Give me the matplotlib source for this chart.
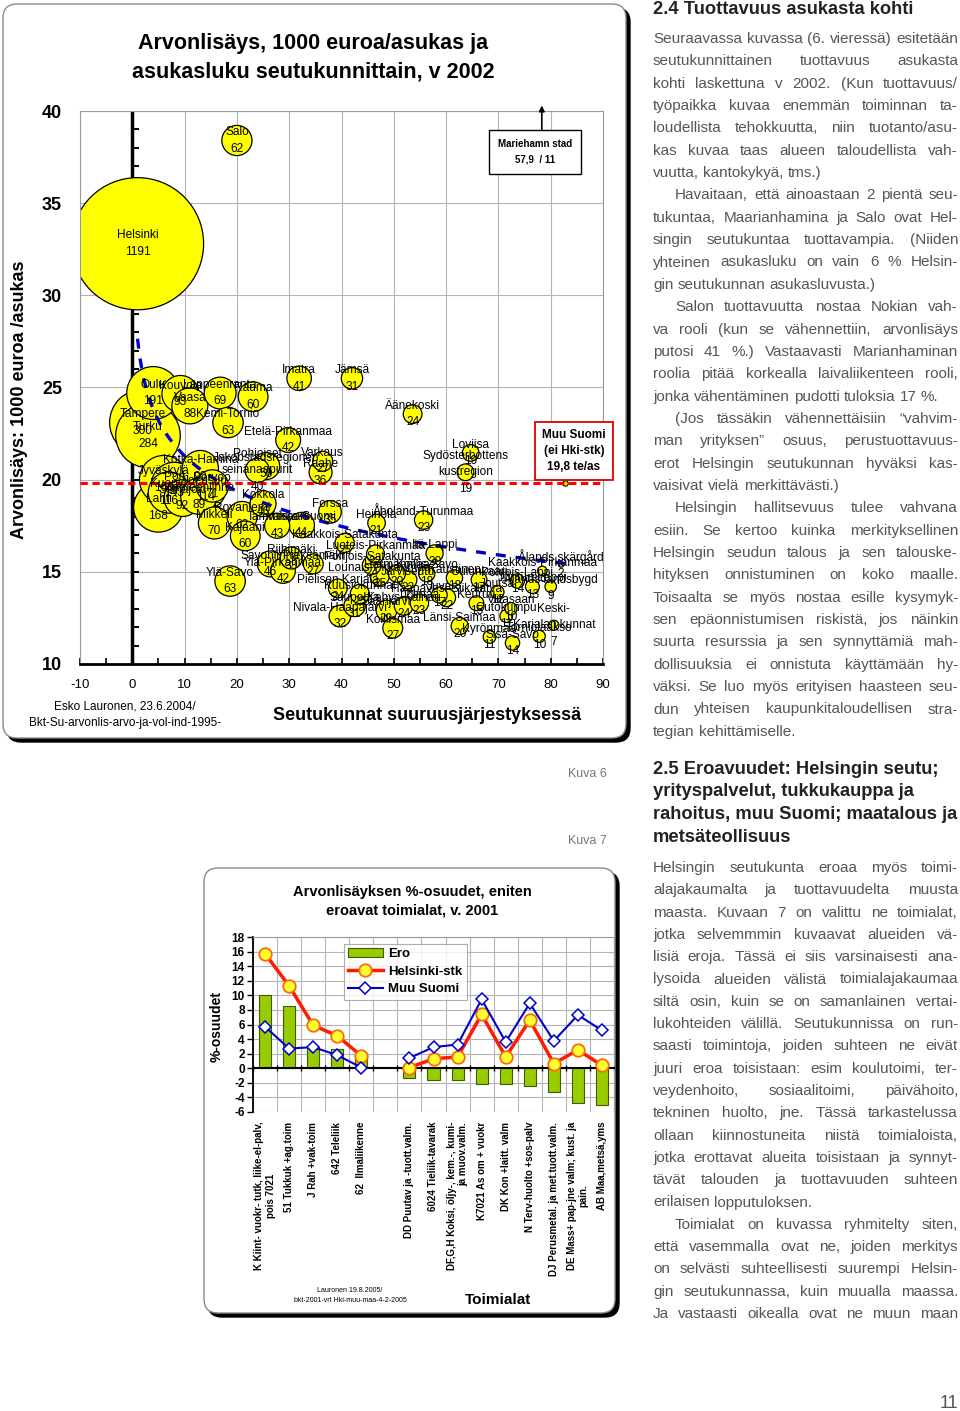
import matplotlib
matplotlib.use('Agg')
import matplotlib.pyplot as plt
import numpy as np
from matplotlib.patches import FancyBboxPatch
from matplotlib.transforms import IdentityTransform, blended_transform_factory

# =============================================================================
# PAGE SETUP
# =============================================================================

W, H = 960, 1411
plt.rcParams['font.family'] = ['Liberation Sans', 'DejaVu Sans']
plt.rcParams['axes.unicode_minus'] = False
BODY_COLOR = '#555555'

# =============================================================================
# DATA - Kuva 6 (bubble chart)
# =============================================================================

regions = ['Helsinki', 'Tampere', 'Turku', 'Oulu', 'Lahti', 'Jyväskylä', 'Kuopio', 'Pori',
           'Kouvola', 'Seinäjoki', 'Vaasa', 'Hämeenlinna', 'Kotka-Hamina', 'Joensuu', 'Porvoo',
           'Mikkeli', 'Lappeenranta', 'Kemi-Tornio', 'Ylä-Savo', 'Salo', 'Rovaniemi', 'Kajaani',
           'Rauma', 'Pohjoiset\nseinänaapurit', 'Kokkola', 'Jakobstadsregionen', 'Savonlinna',
           'Tammisaari', 'Ylä-Pirkanmaa', 'Etelä-Pirkanmaa', 'Riihimäki', 'Imatra', 'Vakka-Suomi',
           'Pieksämäki', 'Raahe', 'Varkaus', 'Forssa', 'Pielisen Karjala', 'Nivala-Haapajärvi',
           'Kaakkois-Satakunta', 'Jämsä', 'Suupohja', 'Kuusiokunnat', 'Lounais-Pirkanmaa',
           'Pohjois-Satakunta', 'Luoteis-Pirkanmaa', 'Heinola', 'Saarijärvi', 'Koillismaa',
           'Härmänmaa', 'Kehys-Kainuu', 'Järviseutu', 'Äänekoski', 'Loimaa', 'Åboland-Turunmaa',
           'Koillis-Savo', 'Itä-Lappi', 'Juva', 'Haapavesi-Siikalatva', 'Kaustinen', 'Länsi-Saimaa',
           'Sydösterbottens\nkustregion', 'Loviisa', 'Keuruu', 'Oulunkaari', 'Kyrönmaa', 'Joutsa',
           'Outokumpu', 'Sisä-Savo', 'Viitasaari', 'Pohjois-Lappi', 'Mariehamns stad',
           'Tunturi-Lappi', 'Torniolaakso', 'Kaakkois-Pirkanmaa', 'Ålands landsbygd',
           'Keski-\nKarjalan kunnat', 'Ålands skärgård']
size_rank = [1, 2, 3, 4, 5, 6, 7, 8, 9.2, 9.6, 11, 12.7, 13, 14, 15.3, 15.7, 16.8, 18.3, 18.7, 20,
             21, 21.6, 23.1, 23.9, 25, 25.6, 26.4, 27.7, 28.8, 29.8, 30.4, 31.9, 32.4, 34.6, 36,
             36.4, 37.8, 39.3, 39.7, 40.6, 42, 42.5, 43.5, 47.3, 45.8, 46.5, 46.7, 48.6, 49.8,
             50.6, 51.9, 52.7, 53.6, 54.9, 55.7, 56.3, 57.8, 58.7, 60.1, 61.6, 62.6, 63.7, 64.7,
             65.8, 66.3, 68.3, 69.8, 71.5, 72.7, 72.4, 73.6, 74.5, 76.5, 77.8, 78.4, 80, 80.6, 82]
value_per_cap = [32.8, 23.1, 22.4, 24.7, 18.5, 20.0, 19.3, 19.7, 24.65, 19.0, 24.0, 19.1, 20.6,
                 19.5, 19.66, 17.65, 24.7, 23.1, 14.5, 38.4, 18.0, 16.95, 24.5, 20.5, 18.7, 20.74,
                 15.43, 17.5, 15.05, 22.15, 15.75, 25.5, 17.54, 15.43, 20.4, 21.0, 18.25, 14.1,
                 12.6, 16.57, 25.5, 13.15, 13.8, 14.77, 15.37, 15.97, 17.65, 12.9, 11.95, 14.9,
                 13.15, 14.56, 23.56, 13.3, 17.81, 14.9, 16.0, 13.74, 13.6, 14.67, 12.06, 20.4,
                 21.45, 13.3, 14.56, 11.47, 13.9, 12.6, 11.14, 13.0, 14.5, 57.9, 14.2, 11.5,
                 15.05, 14.2, 12.1, 15.4]
population = [1191, 300, 284, 191, 168, 160, 116, 143, 93, 92, 88, 89, 90, 114, 71, 70, 69, 63,
              63, 62, 62, 60, 60, 40, 46, 50, 46, 43, 42, 42, 33, 41, 44, 27, 36, 27, 35, 24, 32,
              25, 31, 31, 25, 25, 24, 22, 21, 29, 27, 20, 24, 22, 24, 23, 23, 18, 20, 17, 22, 18,
              20, 19, 19, 15, 17, 11, 12, 11, 14, 10, 14, 11, 13, 10, 6, 9, 7, 2]

muu_suomi_value = 19.8
muu_suomi_rank = 82.8
mariehamn_text = 'Mariehamn stad\n57,9  / 11'

# =============================================================================
# DATA - Kuva 7 (bar + line chart)
# =============================================================================

industries = ['K Kiint- vuokr- tutk, liike-el-palv,\npois 7021', '51 Tukkuk +ag.toim',
              'J Rah +vak-toim', '642 Teleliik', '62  Ilmaliikenne', '',
              'DD Puutav ja -tuott.valm.', '6024 Tieliik-tavarak',
              'DF,G,H Koksi, öljy-, kem.-, kumi-\nja muov.valm.', 'K7021 As om + vuokr',
              'DK Kon +laitt. valm', 'N Terv-huolto +sos-palv',
              'DJ Perusmetal. ja met.tuott.valm.', 'DE Mass+ pap-jne valm; kust. ja\npain.',
              'AB Maa,metsä,yms']
ero = [10.0, 8.5, 2.9, 2.6, 1.6, np.nan, -1.4, -1.6, -1.6, -2.1, -2.1, -2.5, -3.2, -4.8, -5.0]
helsinki_stk = [15.7, 11.3, 5.9, 4.45, 1.7, np.nan, 0.1, 1.3, 1.55, 7.4, 1.55, 6.6, 0.65, 2.5, 0.4]
muu_suomi = [5.7, 2.7, 2.9, 1.8, 0.1, np.nan, 1.4, 2.9, 3.25, 9.45, 3.6, 8.9, 3.75, 7.3, 5.2]

# =============================================================================
# DATA - text column
# =============================================================================

head_24 = '2.4 Tuottavuus asukasta kohti'
text_24 = [
    ['Seuraavassa kuvassa (6. vieressä) esitetään', 'seutukunnittainen tuottavuus asukasta',
     'kohti laskettuna v 2002. (Kun tuottavuus/', 'työpaikka kuvaa enemmän toiminnan ta-',
     'loudellista tehokkuutta, niin tuotanto/asu-', 'kas kuvaa taas alueen taloudellista vah-',
     'vuutta, kantokykyä, tms.)'],
    ['Havaitaan, että ainoastaan 2 pientä seu-', 'tukuntaa, Maarianhamina ja Salo ovat Hel-',
     'singin seutukuntaa tuottavampia. (Niiden', 'yhteinen asukasluku on vain 6 % Helsin-',
     'gin seutukunnan asukasluvusta.)'],
    ['Salon tuottavuutta nostaa Nokian vah-', 'va rooli (kun se vähennettiin, arvonlisäys',
     'putosi 41 %.) Vastaavasti Marianhaminan', 'roolia pitää korkealla laivaliikenteen rooli,',
     'jonka vähentäminen pudotti tuloksia 17 %.'],
    ['(Jos tässäkin vähennettäisiin “vahvim-', 'man yrityksen” osuus, perustuottavuus-',
     'erot Helsingin seutukunnan hyväksi kas-', 'vaisivat vielä merkittävästi.)'],
    ['Helsingin hallitsevuus tulee vahvana', 'esiin. Se kertoo kuinka merkityksellinen',
     'Helsingin seudun talous ja sen talouske-', 'hityksen onnistuminen on koko maalle.',
     'Toisaalta se myös nostaa esille kysymyk-', 'sen epäonnistumisen riskistä, jos näinkin',
     'suurta resurssia ja sen synnyttämiä mah-', 'dollisuuksia ei onnistuta käyttämään hy-',
     'väksi. Se luo myös erityisen haasteen seu-', 'dun yhteisen kaupunkitaloudellisen stra-',
     'tegian kehittämiselle.'],
]
head_25 = ['2.5 Eroavuudet: Helsingin seutu;', 'yrityspalvelut, tukkukauppa ja',
           'rahoitus, muu Suomi; maatalous ja', 'metsäteollisuus']
text_25 = [
    ['Helsingin seutukunta eroaa myös toimi-', 'alajakaumalta ja tuottavuudelta muusta',
     'maasta. Kuvaan 7 on valittu ne toimialat,', 'jotka selvemmmin kuvaavat alueiden vä-',
     'lisiä eroja. Tässä ei siis varsinaisesti ana-', 'lysoida alueiden välistä toimialajakaumaa',
     'siltä osin, kuin se on samanlainen vertai-', 'lukohteiden välillä. Seutukunnissa on run-',
     'saasti toimintoja, joiden suhteen ne eivät', 'juuri eroa toisistaan: esim koulutoimi, ter-',
     'veydenhoito, sosiaalitoimi, päivähoito,', 'tekninen huolto, jne. Tässä tarkastelussa',
     'ollaan kiinnostuneita niistä toimialoista,', 'jotka erottavat alueita toisistaan ja synnyt-',
     'tävät talouden ja tuottavuuden suhteen', 'erilaisen lopputuloksen.'],
    ['Toimialat on kuvassa ryhmitelty siten,', 'että vasemmalla ovat ne, joiden merkitys',
     'on selvästi suhteellisesti suurempi Helsin-', 'gin seutukunnassa, kuin muualla maassa.',
     'Ja vastaasti oikealla ovat ne muun maan'],
]


# =============================================================================
# HELPERS
# =============================================================================

def fx(px):
    return px/W


def fy(py):
    return 1.-py/H


def panel(fig, x0, y0, x1, y1):
    # Rounded box with a black drop shadow, in pixel coordinates.
    shadow = FancyBboxPatch((x0+4, H-y1-4), x1-x0, y1-y0,
                            boxstyle='round,pad=0,rounding_size=14',
                            transform=IdentityTransform(), fc='black', ec='black', zorder=-3)
    box = FancyBboxPatch((x0, H-y1), x1-x0, y1-y0,
                         boxstyle='round,pad=0,rounding_size=14',
                         transform=IdentityTransform(), fc='white', ec='#8a8a8a', lw=1., zorder=-2)
    fig.add_artist(shadow)
    fig.add_artist(box)


fig = plt.figure(figsize=(W/100., H/100.), dpi=100)
fig.patch.set_facecolor('white')
renderer = fig.canvas.get_renderer()
probe = fig.text(0, 0, 'x')


def width_of(s, size, weight='normal'):
    probe.set_text(s)
    probe.set_fontsize(size)
    probe.set_fontweight(weight)
    return probe.get_window_extent(renderer).width


def draw_column(paragraphs, x0, x1, y0, dy, size, weight='normal', color=BODY_COLOR,
                indent=22, open_end=False):
    sp = width_of('a a', size, weight)-width_of('aa', size, weight)
    row = 0
    for ip, para in enumerate(paragraphs):
        for il, line in enumerate(para):
            left = x0+(indent if (ip > 0 and il == 0) else 0)
            words = line.split(' ')
            ws = [width_of(w, size, weight) for w in words]
            last = (il == len(para)-1) and not (open_end and ip == len(paragraphs)-1)
            if (not last) and len(words) > 1:
                gap = (x1-left-sum(ws))/(len(words)-1)
            else:
                gap = sp
            x = left
            y = y0+row*dy
            for w, wd in zip(words, ws):
                fig.text(fx(x), fy(y), w, fontsize=size, fontweight=weight, color=color,
                         va='center', ha='left')
                x += wd+gap
            row += 1


def fit_size(paragraphs, x0, x1, indent=22, base=10.):
    ratio = 0.
    for ip, para in enumerate(paragraphs):
        for il, line in enumerate(para):
            target = x1-x0-(indent if (ip > 0 and il == 0) else 0)
            ratio = max(ratio, width_of(line, base)/target)
    return base/ratio


# =============================================================================
# PANELS
# =============================================================================

panel(fig, 3, 4, 626, 738)
panel(fig, 204, 868, 615, 1313)

# =============================================================================
# KUVA 6
# =============================================================================

ax = fig.add_axes([fx(80), fy(664), 523/W, 553/H])
ax.set_facecolor('none')
ax.set_xlim(-10, 90)
ax.set_ylim(10, 40)
ax.set_xticks(np.arange(-10, 91, 10))
ax.set_xticks(np.arange(-5, 90, 10), minor=True)
ax.set_yticks(np.arange(10, 41, 5))
ax.grid(True, color='#b4b4b4', lw=0.8)
ax.set_axisbelow(True)
for s in ['top', 'right', 'left']:
    ax.spines[s].set_color('#9a9a9a')
    ax.spines[s].set_linewidth(0.8)
ax.spines['bottom'].set_linewidth(2.)
ax.tick_params(axis='y', length=0, pad=13, labelsize=13)
for lab in ax.get_yticklabels():
    lab.set_fontweight('bold')
ax.tick_params(axis='x', which='both', direction='in', length=4, width=1.2, pad=11, labelsize=9.5)

# Axis line at x = 0 with small ticks.
ax.axvline(0, color='black', lw=2.5, zorder=1.5)
ax.hlines(np.arange(11, 40), 0, 1.3, color='black', lw=1.4, zorder=1.5)

rank = np.array(size_rank)
value = np.array(value_per_cap)
pop = np.array(population)
vis = value <= 40
order = np.argsort(-pop)
order = [i for i in order if vis[i]]
ax.scatter(rank[order], value[order], s=pop[order]*7.6, c='#FFFF00', edgecolors='black',
           linewidths=0.9, zorder=2)
ax.scatter([muu_suomi_rank], [muu_suomi_value], s=2*7.6, c='#FFFF00', edgecolors='black',
           linewidths=0.8, zorder=2)

# Logarithmic trend line (as in the spreadsheet).
coef = np.polyfit(np.log(rank), value, 1)
xs = np.linspace(1, 83, 200)
ax.plot(xs, coef[1]+coef[0]*np.log(xs), color='#0000CC', lw=2.4, dashes=(3, 3), zorder=3)
ax.axhline(muu_suomi_value, color='red', lw=2.2, dashes=(2.4, 1.5), zorder=3)

for i in range(len(regions)):
    if vis[i]:
        ax.text(rank[i], value[i], '%s\n%d' % (regions[i], pop[i]), ha='center', va='center',
                fontsize=8.6, linespacing=1.5, zorder=4)

ax.annotate('', xy=(78.3, 40.45), xytext=(78.3, 38.8), annotation_clip=False,
            arrowprops=dict(arrowstyle='-|>', color='black', lw=1.2, mutation_scale=8))
fig.text(fx(535), fy(152), mariehamn_text, ha='center', va='center', fontsize=7,
         fontweight='bold', linespacing=1.7,
         bbox=dict(boxstyle='square,pad=0.9', fc='white', ec='black', lw=1.))
fig.text(fx(574), fy(451), 'Muu Suomi\n(ei Hki-stk)\n19,8 te/as', ha='center', va='center',
         fontsize=8.5, fontweight='bold', linespacing=1.45,
         bbox=dict(boxstyle='square,pad=0.6', fc='white', ec='#dd0000', lw=1.3))

fig.text(fx(313), fy(58), 'Arvonlisäys, 1000 euroa/asukas ja\nasukasluku seutukunnittain, v 2002',
         ha='center', va='center', fontsize=15.5, fontweight='bold', linespacing=1.45)
fig.text(fx(20), fy(400), 'Arvonlisäys: 1000 euroa /asukas', rotation=90, ha='center',
         va='center', fontsize=13, fontweight='bold')
fig.text(fx(125), fy(715), 'Esko Lauronen, 23.6.2004/\nBkt-Su-arvonlis-arvo-ja-vol-ind-1995-',
         ha='center', va='center', fontsize=8.5, linespacing=1.55)
fig.text(fx(427), fy(716), 'Seutukunnat suuruusjärjestyksessä', ha='center', va='center',
         fontsize=13, fontweight='bold')

# =============================================================================
# KUVA 7
# =============================================================================

bx = fig.add_axes([fx(253), fy(1112), 361/W, 175/H])
bx.set_facecolor('none')
pos = np.arange(len(industries))
ero_a = np.array(ero)
ok = np.isfinite(ero_a)
b0 = bx.bar(pos[ok], ero_a[ok], width=0.5, color='#99CC00', edgecolor='#3d5c00', lw=0.8,
            zorder=2, label='Ero')
l1, = bx.plot(pos, helsinki_stk, color='#ff1a00', lw=2.5, marker='o', ms=9, mfc='#FFFF33',
              mec='#ff6a00', mew=1.3, zorder=3, label='Helsinki-stk')
l2, = bx.plot(pos, muu_suomi, color='#0000CC', lw=1.5, marker='D', ms=6, mfc='white',
              mec='#0000CC', mew=1.1, zorder=4, label='Muu Suomi')
bx.set_xlim(-0.5, len(industries)-0.5)
bx.set_ylim(-6, 18)
bx.set_yticks(np.arange(-6, 19, 2))
bx.set_xticks([])
bx.set_xticks(np.arange(-0.5, len(industries), 1.), minor=True)
bx.grid(True, axis='y', color='#b4b4b4', lw=0.8)
bx.grid(True, axis='x', which='minor', color='#b4b4b4', lw=0.8)
bx.set_axisbelow(True)
for s in ['top', 'right']:
    bx.spines[s].set_color('#9a9a9a')
    bx.spines[s].set_linewidth(0.8)
bx.spines['left'].set_linewidth(1.3)
bx.spines['bottom'].set_position(('data', 0))
bx.spines['bottom'].set_linewidth(1.5)
bx.tick_params(axis='y', length=4, width=1., pad=2, labelsize=8.5)
for lab in bx.get_yticklabels():
    lab.set_fontweight('bold')
bx.tick_params(axis='x', which='minor', direction='inout', length=5, width=1., labelbottom=False)

trans = blended_transform_factory(bx.transData, bx.transAxes)
for i, lab in enumerate(industries):
    if lab:
        bx.text(i, -0.057, lab, transform=trans, rotation=90, ha='center', va='top', fontsize=7,
                fontweight='bold', multialignment='right' if lab.startswith('DF') else 'center')

leg = bx.legend([b0, l1, l2], ['Ero', 'Helsinki-stk', 'Muu Suomi'], loc='upper left',
                bbox_to_anchor=((337-253)/361., 1.0), frameon=True, fancybox=False,
                handlelength=2.6, borderpad=0.35, labelspacing=0.4, handletextpad=0.4,
                prop=dict(weight='bold', size=9.5))
leg.get_frame().set_edgecolor('#9a9a9a')
leg.get_frame().set_linewidth(0.8)

fig.text(fx(412), fy(901), 'Arvonlisäyksen %-osuudet, eniten\neroavat toimialat, v. 2001',
         ha='center', va='center', fontsize=10.5, fontweight='bold', linespacing=1.45)
fig.text(fx(217), fy(1027), '%-osuudet', rotation=90, ha='center', va='center', fontsize=10,
         fontweight='bold')
fig.text(fx(498), fy(1300), 'Toimialat', ha='center', va='center', fontsize=11, fontweight='bold')
fig.text(fx(350), fy(1295), 'Lauronen 19.8.2005/\nbkt-2001-vrt Hki-muu-maa-4-2-2005', ha='center',
         va='center', fontsize=5, linespacing=1.6)

# =============================================================================
# TEXT COLUMN
# =============================================================================

X0, X1 = 653, 958
size = fit_size(text_24+text_25, X0, X1)
hsize = 10.*(260./width_of(head_24, 10., 'bold'))
fig.text(fx(X0), fy(9), head_24, fontsize=hsize, fontweight='bold', color='#222222', va='center')
draw_column(text_24, X0, X1, 39, 22.35, size)
h2size = 10.*(305./width_of(head_25[2], 10., 'bold'))
for i, line in enumerate(head_25):
    fig.text(fx(X0), fy(769+i*22.7), line, fontsize=h2size, fontweight='bold', color='#222222',
             va='center')
draw_column(text_25, X0, X1, 868, 22.3, size, open_end=True)

fig.text(fx(587), fy(774), 'Kuva 6', ha='center', va='center', fontsize=9, color='#777777')
fig.text(fx(587), fy(841), 'Kuva 7', ha='center', va='center', fontsize=9, color='#777777')
fig.text(fx(958), fy(1403), '11', ha='right', va='center', fontsize=13, color='#555555')

probe.remove()
fig.savefig('out.png', dpi=100)
